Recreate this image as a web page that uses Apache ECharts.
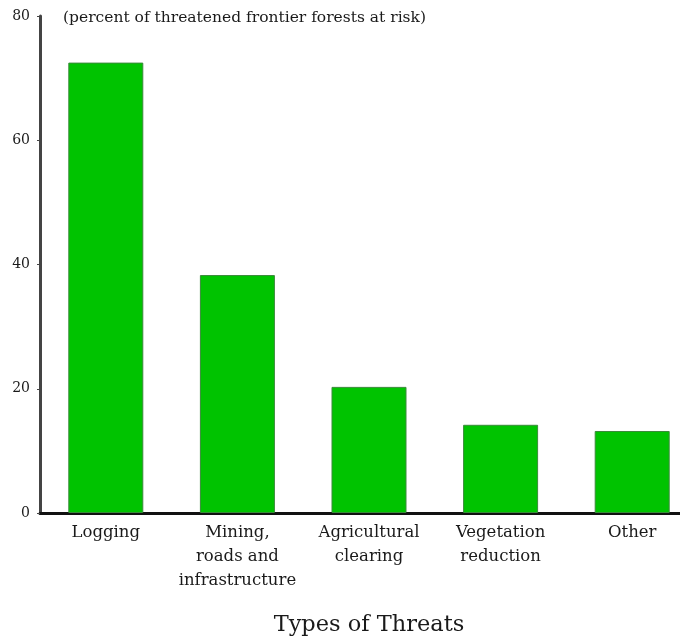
<!DOCTYPE html>
<html>
<head>
<meta charset="utf-8">
<script src="https://cdn.jsdelivr.net/npm/echarts@6/dist/echarts.min.js"></script>
<style>
  html, body { margin: 0; padding: 0; background: #fff; }
  #chart { width: 680px; height: 641px; }
</style>
</head>
<body>
<div id="chart"></div>
<script>
// threats to frontier forests
var categories = ['Logging', 'Mining,\nroads and\ninfrastructure', 'Agricultural\nclearing', 'Vegetation\nreduction', 'Other'];
var percentAtRisk = [72.5, 38.3, 20.3, 14.2, 13.2];
var yTicks = [0, 20, 40, 60, 80];

var serif = '"DejaVu Serif", "Liberation Serif", serif';

var chart = echarts.init(document.getElementById('chart'));
var option = {
  animation: false,
  title: {
    text: '(percent of threatened frontier forests at risk)',
    left: 58,
    top: 5,
    textStyle: { fontFamily: serif, fontSize: 15.5, fontWeight: 'normal', color: '#1a1a1a' }
  },
  grid: { left: 40, width: 658, top: 16, bottom: 128, outerBoundsMode: 'none' },
  xAxis: {
    type: 'category',
    data: categories,
    name: 'Types of Threats',
    nameLocation: 'middle',
    nameGap: 101,
    nameTextStyle: { fontFamily: serif, fontSize: 22.5, color: '#1a1a1a' },
    axisLine: { lineStyle: { color: '#111', width: 3 } },
    axisTick: { show: false },
    axisLabel: {
      interval: 0,
      margin: 8,
      fontFamily: serif,
      fontSize: 16.5,
      lineHeight: 24,
      color: '#1a1a1a'
    }
  },
  yAxis: {
    type: 'value',
    min: 0,
    max: 80,
    interval: 20,
    axisLine: { show: true, lineStyle: { color: '#444', width: 3 } },
    axisTick: { show: true, length: 3, lineStyle: { color: '#444' } },
    splitLine: { show: false },
    axisLabel: {
      margin: 10,
      fontFamily: serif,
      fontSize: 14,
      color: '#1a1a1a',
      formatter: function (v) { return yTicks.indexOf(v) >= 0 ? String(v) : ''; }
    }
  },
  series: [{
    type: 'bar',
    data: percentAtRisk,
    barWidth: 75,
    itemStyle: { color: '#00c300', borderColor: '#3a8a3a', borderWidth: 1 }
  }]
};
chart.setOption(option);
</script>
</body>
</html>
